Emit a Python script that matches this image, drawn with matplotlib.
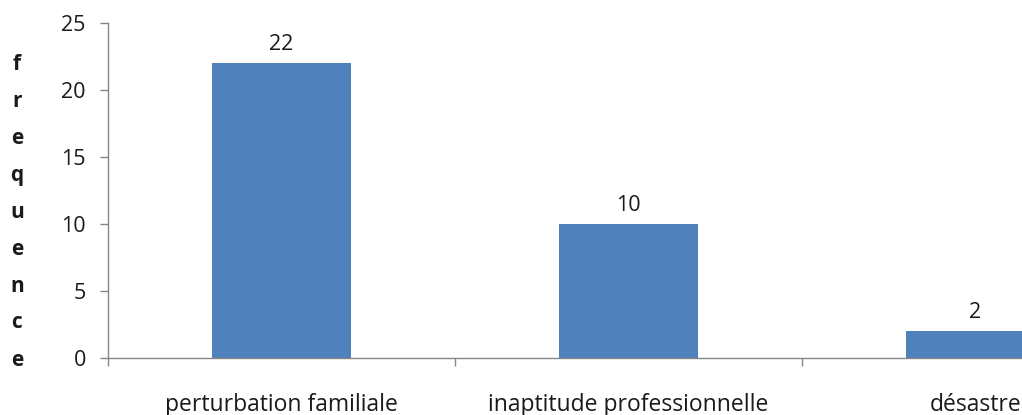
import matplotlib.pyplot as plt
import numpy as np

categories = ['perturbation familiale', 'inaptitude professionnelle', 'désastre']
frequences = [22, 10, 2]
yticks = [0, 5, 10, 15, 20, 25]

plt.rcParams['font.family'] = ['Open Sans', 'DejaVu Sans']

W, H = 1022, 415
fig = plt.figure(figsize=(W / 100, H / 100), dpi=100)
# l'axe dépasse volontairement le bord droit de la figure
ax = fig.add_axes([108 / W, 57 / H, 1041 / W, 335 / H])

x = np.arange(len(categories))
bars = ax.bar(x, frequences, width=0.4, color='#4F81BD', zorder=2)

for b, v in zip(bars, frequences):
    ax.annotate(str(v), (b.get_x() + b.get_width() / 2, v), xytext=(0, 6),
                textcoords='offset points', ha='center', va='bottom',
                fontsize=15.5, color='#1a1a1a')

ax.set_xlim(-0.5, 2.5)
ax.set_ylim(0, 25)
ax.set_yticks(yticks)
ax.set_xticks(x)
ax.set_xticklabels(categories, fontsize=16.5, color='#1a1a1a')
ax.set_xticks([-0.5, 0.5, 1.5, 2.5], minor=True)
ax.tick_params(axis='x', which='major', length=0, pad=25)
ax.tick_params(axis='x', which='minor', length=6, color='#868686', width=1)
ax.tick_params(axis='y', length=6, color='#868686', width=1, labelsize=15.5,
               labelcolor='#1a1a1a', pad=10)

for s in ['top', 'right']:
    ax.spines[s].set_visible(False)
for s in ['left', 'bottom']:
    ax.spines[s].set_color('#868686')
    ax.spines[s].set_linewidth(1)

# étiquette de l'axe y, une lettre par ligne
fig.text(17 / W, 1 - 212 / H, '\n'.join('frequence'), ha='center', va='center',
         fontsize=15, fontweight='bold', linespacing=2.0, color='#1a1a1a')

fig.savefig('out.png', dpi=100)
